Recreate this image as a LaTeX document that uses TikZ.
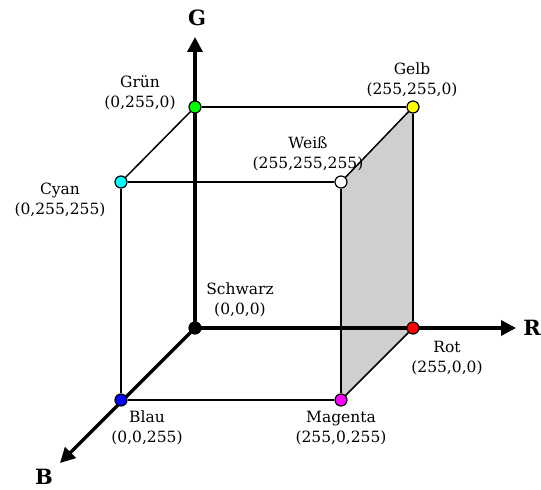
\documentclass[tikz,border=0pt]{standalone}
\usepackage{fontspec}
\setmainfont{DejaVu Serif}
\usetikzlibrary{arrows.meta, backgrounds}
\definecolor{facegray}{gray}{0.81}
\definecolor{vgreen}{HTML}{00FF00}
\definecolor{vred}{HTML}{FF0000}
\definecolor{vyellow}{HTML}{FFFF00}
\definecolor{vblue}{HTML}{0000FF}
\definecolor{vcyan}{HTML}{00FFFF}
\definecolor{vmagenta}{HTML}{FF00FF}
\tikzset{
  dot/.style      = {circle, draw=black, line width=1.2pt,
                     minimum size=12pt, inner sep=0pt},
  cubeedge/.style = {draw=black, line width=1.5pt},
  axis/.style     = {draw=black, line width=3.5pt,
                     -{Triangle[length=15pt, width=15pt]}},
  lab/.style      = {font=\fontsize{15.5}{20}\selectfont, align=center,
                     inner sep=0pt},
  axlab/.style    = {font=\fontsize{21}{24}\selectfont\bfseries, inner sep=0pt},
}

\begin{document}
\begin{tikzpicture}[x=1pt, y=1pt, line cap=butt, line join=miter]
  \useasboundingbox (0,0) rectangle (541,490);
  % corners of the cube
  \node[dot, fill=black]    (schwarz) at (195,162) {};
  \node[dot, fill=vgreen]   (gruen)   at (195,383) {};
  \node[dot, fill=vred]     (rot)     at (413,162) {};
  \node[dot, fill=vyellow]  (gelb)    at (413,383) {};
  \node[dot, fill=vblue]    (blau)    at (121,90)  {};
  \node[dot, fill=vcyan]    (cyan)    at (121,308) {};
  \node[dot, fill=white]    (weiss)   at (341,308) {};
  \node[dot, fill=vmagenta] (magenta) at (341,90)  {};
  % axis ends
  \coordinate (gtip) at (195,453);
  \coordinate (rtip) at (516,162);
  \coordinate (btip) at (60,27);
  \begin{pgfonlayer}{background}
    \fill[facegray] (weiss.center) -- (gelb.center) -- (rot.center)
      -- (magenta.center) -- cycle;
    \draw[cubeedge] (gruen) -- (gelb);
    \draw[cubeedge] (gruen) -- (cyan);
    \draw[cubeedge] (cyan) -- (weiss);
    \draw[cubeedge] (weiss) -- (gelb);
    \draw[cubeedge] (cyan) -- (blau);
    \draw[cubeedge] (weiss) -- (magenta);
    \draw[cubeedge] (blau) -- (magenta);
    \draw[cubeedge] (magenta) -- (rot);
    \draw[cubeedge] (gelb) -- (rot);
    \draw[axis] (schwarz.center) -- (gtip);
    \draw[axis] (schwarz.center) -- (rtip);
    \draw[axis] (schwarz.center) -- (btip);
  \end{pgfonlayer}
  \node[axlab] (lg) at (197,472) {G};
  \node[axlab] (lr) at (532,162) {R};
  \node[axlab] (lb) at (44,13)   {B};
  % colour names
  \node[lab] (lgruen)   at (140,397) {Grün\\(0,255,0)};
  \node[lab] (lgelb)    at (412,410) {Gelb\\(255,255,0)};
  \node[lab] (lweiss)   at (308,336) {Weiß\\(255,255,255)};
  \node[lab] (lcyan)    at (60,290)  {Cyan\\(0,255,255)};
  \node[lab] (lschwarz) at (240,190) {Schwarz\\(0,0,0)};
  \node[lab] (lrot)     at (447,132) {Rot\\(255,0,0)};
  \node[lab] (lblau)    at (147,62)  {Blau\\(0,0,255)};
  \node[lab] (lmagenta) at (341,62)  {Magenta\\(255,0,255)};
\end{tikzpicture}
\end{document}
